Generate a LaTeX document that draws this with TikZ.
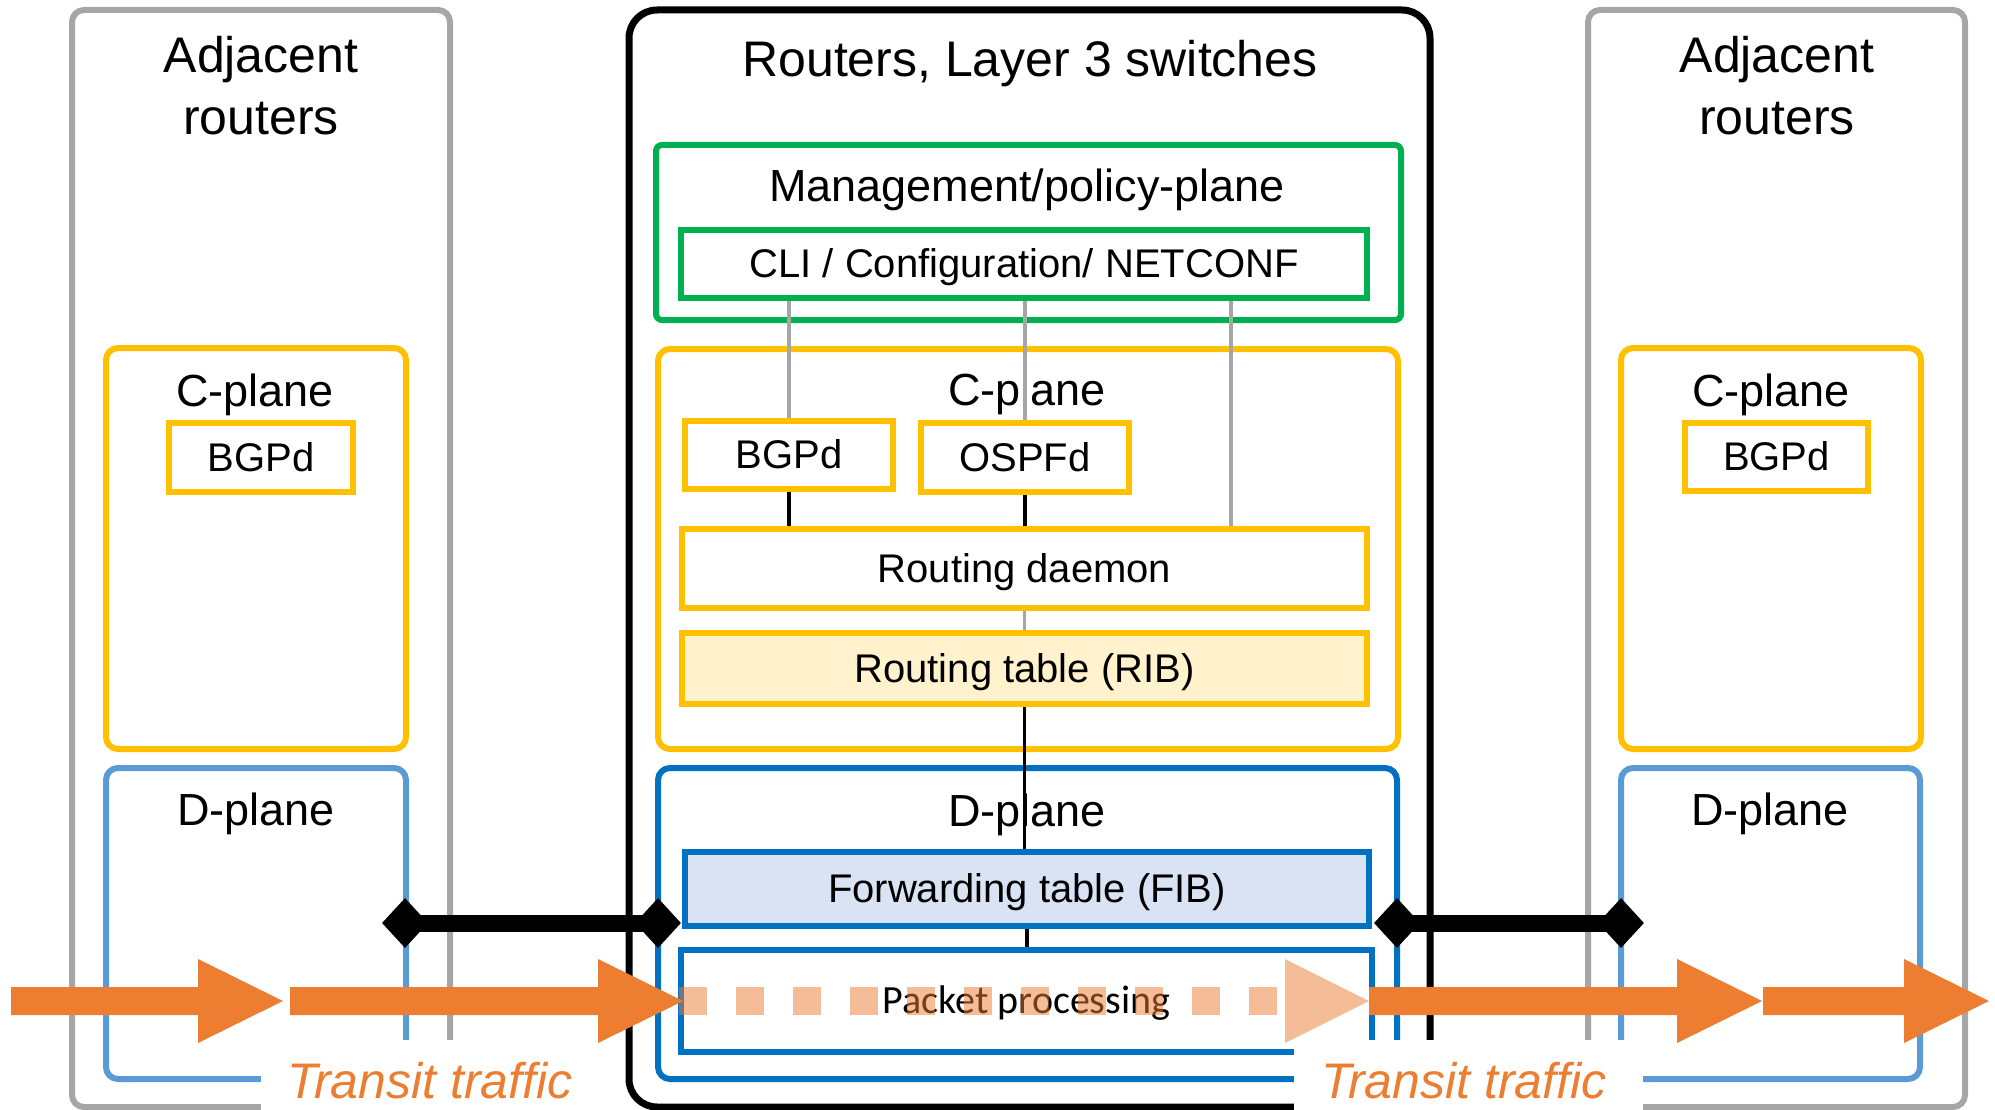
\documentclass[tikz,border=0pt]{standalone}
\usepackage{fontspec}
\setmainfont{Liberation Sans}
\newfontfamily\calibrifont{Carlito}
\usetikzlibrary{shapes.geometric}

\definecolor{frameGray}{HTML}{A6A6A6}
\definecolor{planeYellow}{HTML}{FFC000}
\definecolor{mgmtGreen}{HTML}{00B050}
\definecolor{dBlue}{HTML}{0070C0}
\definecolor{dBlueLight}{HTML}{5B9BD5}
\definecolor{flowOrange}{HTML}{ED7D31}
\definecolor{ribFill}{HTML}{FFF2CC}
\definecolor{fibFill}{HTML}{DAE3F3}

\newcommand\fsize[2]{\fontsize{#1}{#2}\selectfont}

% thick traffic arrow: start x, tip x, centre y, style
\newcommand\flowarrow[4]{%
  \fill[#4] (#1,#3-14) -- (#2-85,#3-14) -- (#2-85,#3-42) -- (#2,#3)
    -- (#2-85,#3+42) -- (#2-85,#3+14) -- (#1,#3+14) -- cycle;}

\begin{document}
\begin{tikzpicture}[x=1pt, y=-1pt,
  frame/.style={rounded corners=12pt, line width=6pt},
  routerbox/.style={draw=black, line width=7pt, rounded corners=28pt},
  box/.style={rectangle, inner sep=0pt, line width=6pt, fill=white,
    font=\fsize{40}{48}, text height=32pt, text depth=5pt},
  ybox/.style={box, draw=planeYellow},
  gbox/.style={box, draw=mgmtGreen},
  bbox/.style={box, draw=dBlue},
  title/.style={font=\fsize{50}{62}, inner sep=0pt, anchor=base},
  planetitle/.style={font=\fsize{45}{54}, inner sep=0pt, anchor=base},
  greyline/.style={draw=frameGray, line width=3.5pt},
  blackline/.style={draw=black, line width=3.5pt},
  link/.style={draw=black, line width=17pt},
  port/.style={diamond, fill=black, minimum width=46pt, minimum height=50pt, inner sep=0pt},
  traffic/.style={font=\fsize{50}{60}\itshape, text=flowOrange, inner sep=0pt, anchor=base},
  cover/.style={fill=white}
]
\useasboundingbox (0,0) rectangle (1995,1110);

% ---- left adjacent router ----
\draw[frame, draw=frameGray] (72,10) rectangle (450,1107);
\draw[frame, draw=planeYellow] (106,348) rectangle (406,749);
\draw[frame, draw=dBlueLight] (106,768) rectangle (406,1079);
% base anchor of a two-line node sits on the last line
\node[title, align=center] (adjL) at (261,135) {Adjacent\\routers};
\node[planetitle] (cplL) at (255,406) {C-plane};
\node[planetitle] (dplL) at (256,825) {D-plane};
\node[ybox, minimum width=184pt, minimum height=69pt] (bgpL) at (261,457.5) {BGPd};

% ---- right adjacent router ----
\draw[frame, draw=frameGray] (1588,10) rectangle (1965,1107);
\draw[frame, draw=planeYellow] (1621,348) rectangle (1921,749);
\draw[frame, draw=dBlueLight] (1621,768) rectangle (1920,1079);
\node[title, align=center] (adjR) at (1777,135) {Adjacent\\routers};
\node[planetitle] (cplR) at (1771,406) {C-plane};
\node[planetitle] (dplR) at (1770,825) {D-plane};
\node[ybox, minimum width=183pt, minimum height=68pt] (bgpR) at (1776.5,457) {BGPd};

% ---- router / layer 3 switch ----
\draw[routerbox] (629,10) rectangle (1430,1107);
\node[title] (rtr) at (1030,77) {Routers, Layer 3 switches};

\draw[line width=6pt, draw=mgmtGreen, rounded corners=6pt] (656,145) rectangle (1401,320);
\node[planetitle] (mgmt) at (1027,202) {Management/policy-plane};
\node[gbox, minimum width=686pt, minimum height=68pt] (cli) at (1024,264) {CLI / Configuration/ NETCONF};

\draw[frame, draw=planeYellow] (658,349) rectangle (1398,749);
\node[planetitle] (cpl) at (1027,405) {C-plane};
\node[ybox, minimum width=208pt, minimum height=68pt] (bgp) at (789,455) {BGPd};
\node[ybox, minimum width=208pt, minimum height=69pt] (ospf) at (1025,457.5) {OSPFd};
\node[ybox, minimum width=685pt, minimum height=79pt] (rd) at (1024.5,568.5) {Routing daemon};
\node[ybox, fill=ribFill, minimum width=685pt, minimum height=71pt] (rib) at (1024.5,668.5) {Routing table (RIB)};

\draw[frame, draw=dBlue] (658,768) rectangle (1397,1079);
\node[planetitle] (dpl) at (1027,826) {D-plane};
\node[bbox, fill=fibFill, minimum width=684pt, minimum height=74pt] (fib) at (1027,889) {Forwarding table (FIB)};
\node[bbox, minimum width=691pt, minimum height=102pt, font=\fsize{40}{48}\calibrifont,
      text height=28pt, text depth=4pt] (pp) at (1026.5,1001) {Packet processing};

% ---- internal connections ----
\coordinate (cfgTap) at (1231,0);
\draw[greyline] (bgp.north |- cli.south) -- (bgp.north);
\draw[greyline] (ospf.north |- cli.south) -- (ospf.north);
\draw[greyline] (cfgTap |- cli.south) -- (cfgTap |- rd.north);
\draw[blackline] (bgp.south) -- (bgp.south |- rd.north);
\draw[blackline] (ospf.south) -- (ospf.south |- rd.north);
\draw[greyline] (rd.south) -- (rib.north);
\draw[blackline] (rib.south) -- (rib.south |- fib.north);
\draw[blackline] (fib.south) -- (fib.south |- pp.north);

% ---- traffic labels ----
\fill[cover] (261,1040) rectangle (625,1112);
\node[traffic] (ttL) at (430,1098) {Transit traffic};
\fill[cover] (1294,1040) rectangle (1643,1112);
\node[traffic] (ttR) at (1464,1098) {Transit traffic};

% ---- links between neighbouring D-planes ----
\node[port] (pL1) at (405,923) {};
\node[port] (pL2) at (658,923) {};
\node[port] (pR1) at (1397,923) {};
\node[port] (pR2) at (1621,923) {};
\draw[link] (pL1.center) -- (pL2.center);
\draw[link] (pR1.center) -- (pR2.center);

% ---- transit traffic flow ----
\flowarrow{11}{283}{1001}{flowOrange}
\flowarrow{290}{683}{1001}{flowOrange}
\draw[flowOrange, opacity=0.5, line width=28pt, dash pattern=on 28pt off 29pt]
  (679,1001) -- (1285,1001);
\fill[flowOrange, opacity=0.5] (1285,959) -- (1369,1001) -- (1285,1043) -- cycle;
\flowarrow{1369}{1762}{1001}{flowOrange}
\flowarrow{1763}{1989}{1001}{flowOrange}
\end{tikzpicture}
\end{document}
